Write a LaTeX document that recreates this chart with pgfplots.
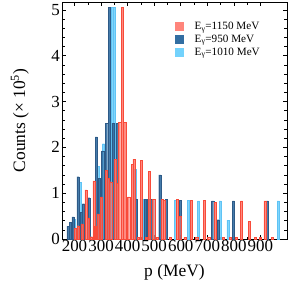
\documentclass[border=0pt]{standalone}
\usepackage{fontspec}
\setmainfont{Liberation Serif}
\usepackage{pgfplots}
\pgfplotsset{compat=1.18}
\usepackage{pgfplotstable}
\definecolor{cred}{RGB}{255,112,100}
\definecolor{credE}{RGB}{248,75,58}
\definecolor{cdb}{RGB}{50,110,162}
\definecolor{cdbE}{RGB}{45,90,135}
\definecolor{clb}{RGB}{115,210,252}
\definecolor{clbE}{RGB}{95,195,245}
\pgfplotstableread{
p c
175 0.28
185 0.36
194 0.48
213 1.36
225 0.58
234 0.77
254 0.90
282 2.23
294 1.32
306 1.92
321 2.53
332 5.05
345 2.53
360 2.53
433 0.87
466 0.87
476 0.87
489 0.87
521 1.40
546 0.87
599 0.85
720 0.83
740 0.42
798 0.83
926 0.83
}\dbdata
\pgfplotstableread{
p c
200 0.43
222 1.23
261 0.05
289 1.58
309 2.08
341 5.05
349 5.05
429 1.52
461 0.87
489 0.87
498 0.87
580 0.85
629 0.85
667 0.83
749 0.83
778 0.41
967 0.83
}\lbdata
\pgfplotstableread{
p c
202 0.23
213 0.29
228 0.33
243 1.07
250 0.46
263 0.05
273 1.27
279 0.28
288 0.55
302 0.92
319 1.50
326 1.32
336 1.25
354 1.74
360 1.22
370 2.55
380 5.05
389 2.55
404 0.92
417 1.63
424 1.74
440 0.04
451 1.72
470 0.04
482 1.48
498 0.86
512 0.04
531 0.87
538 0.85
560 0.04
587 0.86
596 0.50
615 0.03
640 0.85
660 0.03
689 0.85
705 0.03
730 0.80
760 0.03
785 0.03
810 0.03
829 0.83
858 0.38
880 0.03
900 0.03
917 0.83
945 0.03
}\reddata
\begin{document}
\begin{tikzpicture}
\useasboundingbox (-62bp,-52bp) rectangle (229bp,239bp);
\begin{axis}[
  at={(0,0)}, anchor=south west,
  scale only axis, width=225bp, height=237bp,
  xmin=153, xmax=1000, ymin=0, ymax=5.17,
  axis line style={line width=0.8pt},
  tick style={black, line width=0.5pt},
  major tick length=4bp, minor tick length=2.5bp,
  tick align=inside,
  xtick={200,300,...,900}, minor x tick num=1,
  ytick={0,1,2,3,4,5}, minor y tick num=4,
  ticklabel style={font=\fontsize{17}{19}\selectfont},
  /pgf/number format/assume math mode=true,
  /pgf/number format/1000 sep={},
  xticklabel style={inner sep=1pt},
  yticklabel style={inner sep=2pt},
  xlabel={p (MeV)}, ylabel={Counts (× 10\textsuperscript{5})},
  label style={font=\fontsize{17.5}{20}\selectfont},
  xlabel style={at={(axis description cs:0.5,-0.139)}, anchor=center},
  ylabel style={at={(axis description cs:-0.187,0.5)}, anchor=center},
  legend style={at={(axis description cs:0.50,0.925)}, anchor=north west,
    draw=none, fill=none, inner sep=0pt, font=\fontsize{11.2}{12.5}\selectfont,
    row sep=0pt},
  legend cell align=left,
  legend image code/.code={\fill[#1, draw=none] (0bp,-4.5bp) rectangle (9bp,4.5bp); \path[draw=none, fill=none] (0bp,0bp) -- (18bp,0bp);},
]
\addlegendimage{fill=cred!85!white}
\addlegendentry{E\textsubscript{γ}=1150 MeV}
\addlegendimage{fill=cdb}
\addlegendentry{E\textsubscript{γ}=950 MeV}
\addlegendimage{fill=clb}
\addlegendentry{E\textsubscript{γ}=1010 MeV}
\addplot[ybar, bar width=8, bar shift=0pt, fill=clb, draw=clbE, line width=0.3pt, fill opacity=0.9, forget plot] table[x=p,y=c] {\lbdata};
\addplot[ybar, bar width=8, bar shift=0pt, fill=cdb, draw=cdbE, line width=0.3pt, fill opacity=0.9, forget plot] table[x=p,y=c] {\dbdata};
\addplot[ybar, bar width=8, bar shift=0pt, fill=cred, draw=credE, line width=0.3pt, fill opacity=0.82, forget plot] table[x=p,y=c] {\reddata};
\end{axis}
\end{tikzpicture}
\end{document}
